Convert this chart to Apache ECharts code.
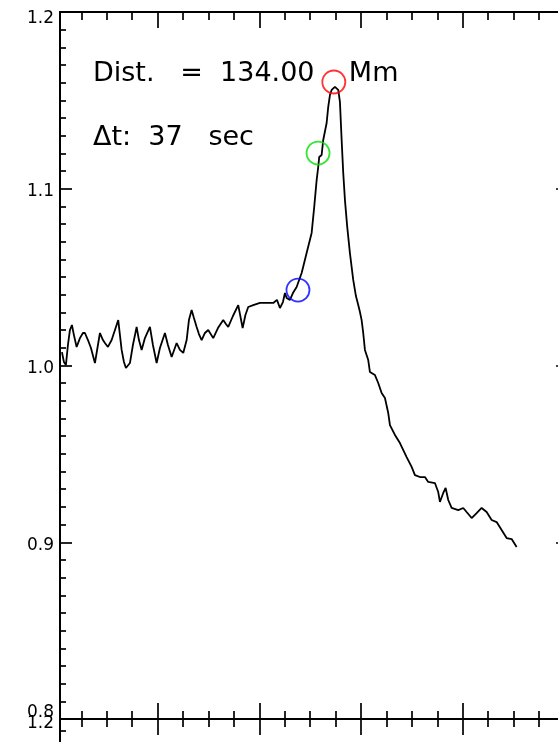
<!DOCTYPE html>
<html><head><meta charset="utf-8">
<script src="https://cdn.jsdelivr.net/npm/echarts@6/dist/echarts.min.js"></script>
<style>html,body{margin:0;padding:0;background:#fff}#c{width:558px;height:742px}</style>
</head><body><div id="c"></div><script>
// ---- data ----
const frame = [2.36,3.15,3.93,4.72,5.51,6.29,7.08,8.14,9.44,10.62,11.41,12.59,13.77,15.34,16.52,17.31,18.49,19.27,20.45,21.91,
  23.21,24.50,25.84,26.75,27.53,29.10,30.28,31.74,32.65,33.71,35.00,36.97,38.15,39.61,40.90,42.87,44.05,45.51,47.47,48.77,
  50.07,51.41,52.31,53.37,54.28,55.34,56.24,57.31,58.60,59.90,61.87,63.72,65.80,66.86,67.77,69.62,71.70,73.43,74.53,75.63,
  77.60,80.24,82.60,85.47,86.92,88.10,89.28,90.07,90.74,92.03,93.21,94.67,96.64,98.60,100.57,101.59,102.54,103.16,103.56,104.50,
  105.13,106.47,107.10,107.77,108.44,109.73,111.03,111.70,112.37,113.00,113.67,114.57,115.63,116.93,117.99,118.90,119.57,120.23,120.86,121.53,
  122.83,123.50,125.47,126.76,128.10,129.40,130.70,131.37,133.33,135.30,137.93,139.90,141.20,143.16,145.13,146.43,149.06,150.36,151.03,152.33,
  153.27,154.30,155.63,158.23,160.20,161.53,163.50,165.46,167.43,169.40,171.37,173.33,175.30,177.26,179.23,181.20];
const ratio = [1.0076,1.0020,1.0003,1.0116,1.0201,1.0229,1.0172,1.0105,1.0155,1.0184,1.0184,1.0144,1.0099,1.0014,1.0116,1.0184,1.0144,1.0127,1.0105,1.0144,
  1.0201,1.0257,1.0088,1.0020,0.9986,1.0014,1.0116,1.0218,1.0144,1.0088,1.0155,1.0218,1.0116,1.0014,1.0099,1.0184,1.0116,1.0048,1.0127,1.0088,
  1.0071,1.0144,1.0257,1.0314,1.0269,1.0218,1.0178,1.0144,1.0184,1.0201,1.0155,1.0212,1.0257,1.0235,1.0218,1.0280,1.0342,1.0212,1.0286,1.0331,
  1.0342,1.0354,1.0354,1.0354,1.0371,1.0325,1.0359,1.0410,1.0382,1.0371,1.0410,1.0444,1.0523,1.0636,1.0750,1.0897,1.1049,1.1123,1.1180,1.1191,
  1.1276,1.1372,1.1463,1.1530,1.1559,1.1576,1.1559,1.1491,1.1276,1.1089,1.0936,1.0784,1.0636,1.0484,1.0393,1.0342,1.0303,1.0257,1.0184,1.0088,
  1.0031,0.9963,0.9946,0.9901,0.9844,0.9816,0.9731,0.9663,0.9607,0.9561,0.9482,0.9426,0.9380,0.9369,0.9369,0.9341,0.9335,0.9284,0.9228,0.9279,
  0.9307,0.9239,0.9194,0.9182,0.9194,0.9171,0.9137,0.9165,0.9194,0.9171,0.9126,0.9114,0.9069,0.9024,0.9018,0.8973];
const markFrames = [95.2, 103.1, 109.3];
const markRatios = [1.0427, 1.1202, 1.1604];
const markColors = ['#0000ff', '#00e000', '#ff0000'];
const xMajorTicks = [40, 80, 120, 160, 200];
const xMinorTicks = [10, 20, 30, 50, 60, 70, 90, 100, 110, 130, 140, 150, 170, 180, 190];
const yTickLabels = ['0.8', '0.9', '1.0', '1.1', '1.2'];
const textDist = 'Dist.   =  134.00    Mm';
const textDt = 'Δt:  37   sec';

// ---- chart ----
const FONT = 'DejaVu Sans';
const ink = {color: '#000', width: 1.7};
const XMIN = 1.6, XMAX = 201.4;

function xAx(grid, pos, ticks, len) {
  return {type: 'value', gridIndex: grid, position: pos, min: XMIN, max: XMAX,
    axisLine: {show: true, onZero: false, lineStyle: {color: '#000', width: 2}},
    axisTick: {show: true, inside: true, length: len, customValues: ticks, lineStyle: ink},
    axisLabel: {show: false}, splitLine: {show: false}};
}
const tok = (pad) => ({fontFamily: FONT, fontSize: 17, color: '#000', padding: pad});
function yAx(grid, pos, fmt) {
  return {type: 'value', gridIndex: grid, position: pos, min: 0.8, max: 1.2, interval: 0.1,
    axisLine: {show: true, onZero: false, lineStyle: {color: '#000', width: 2}},
    axisTick: {show: true, inside: true, length: 12, lineStyle: ink},
    minorTick: {show: true, splitNumber: 10, length: 6, lineStyle: ink},
    axisLabel: fmt ? {show: true, margin: 6, formatter: fmt, showMinLabel: true, showMaxLabel: true,
      rich: {n: tok([6, 0, 0, 0]), hi: tok([14, 0, 0, 0]), lo: tok([0, 0, 12, 0]), p: tok([10, 0, 0, 0])}} : {show: false},
    splitLine: {show: false}, minorSplitLine: {show: false}};
}
function lab(v) { return yTickLabels.find(s => Math.abs(parseFloat(s) - v) < 1e-6); }
const fmt1 = v => { const s = lab(v); if (!s) return ''; if (s === '0.8') return '{lo|' + s + '}'; if (s === '1.2') return '{hi|' + s + '}'; return '{n|' + s + '}'; };
const fmt2 = v => { const s = lab(v); return s === '1.2' ? '{p|' + s + '}' : ''; };

const chart = echarts.init(document.getElementById('c'), null, {renderer: 'canvas'});
chart.setOption({
  animation: false,
  backgroundColor: '#fff',
  grid: [
    {left: 60, top: 12, width: 508, height: 707, containLabel: false, outerBoundsMode: 'none'},
    {left: 60, top: 719, width: 508, height: 480, containLabel: false, outerBoundsMode: 'none'}
  ],
  xAxis: [
    xAx(0, 'bottom', xMajorTicks, 16), xAx(0, 'bottom', xMinorTicks, 8),
    xAx(0, 'top', xMajorTicks, 16), xAx(0, 'top', xMinorTicks, 8),
    xAx(1, 'top', xMajorTicks, 16), xAx(1, 'top', xMinorTicks, 8)
  ],
  yAxis: [yAx(0, 'left', fmt1), yAx(0, 'right', null), yAx(1, 'left', fmt2), yAx(1, 'right', null)],
  graphic: [
    {type: 'text', left: 93, top: 60, style: {text: textDist, font: '27px "' + FONT + '"', fill: '#000'}, z: 5},
    {type: 'text', left: 93, top: 124, style: {text: textDt, font: '27px "' + FONT + '"', fill: '#000'}, z: 5}
  ],
  series: [
    {type: 'line', xAxisIndex: 0, yAxisIndex: 0, showSymbol: false, symbol: 'none',
      data: frame.map((f, i) => [f, ratio[i]]), lineStyle: {color: '#000', width: 1.8}, z: 3},
    {type: 'scatter', xAxisIndex: 0, yAxisIndex: 0, symbol: 'circle', symbolSize: 23, z: 10,
      data: markFrames.map((f, i) => ({value: [f, markRatios[i]],
        itemStyle: {color: 'rgba(0,0,0,0)', borderColor: markColors[i], borderWidth: 1.8}}))}
  ]
});
</script></body></html>
